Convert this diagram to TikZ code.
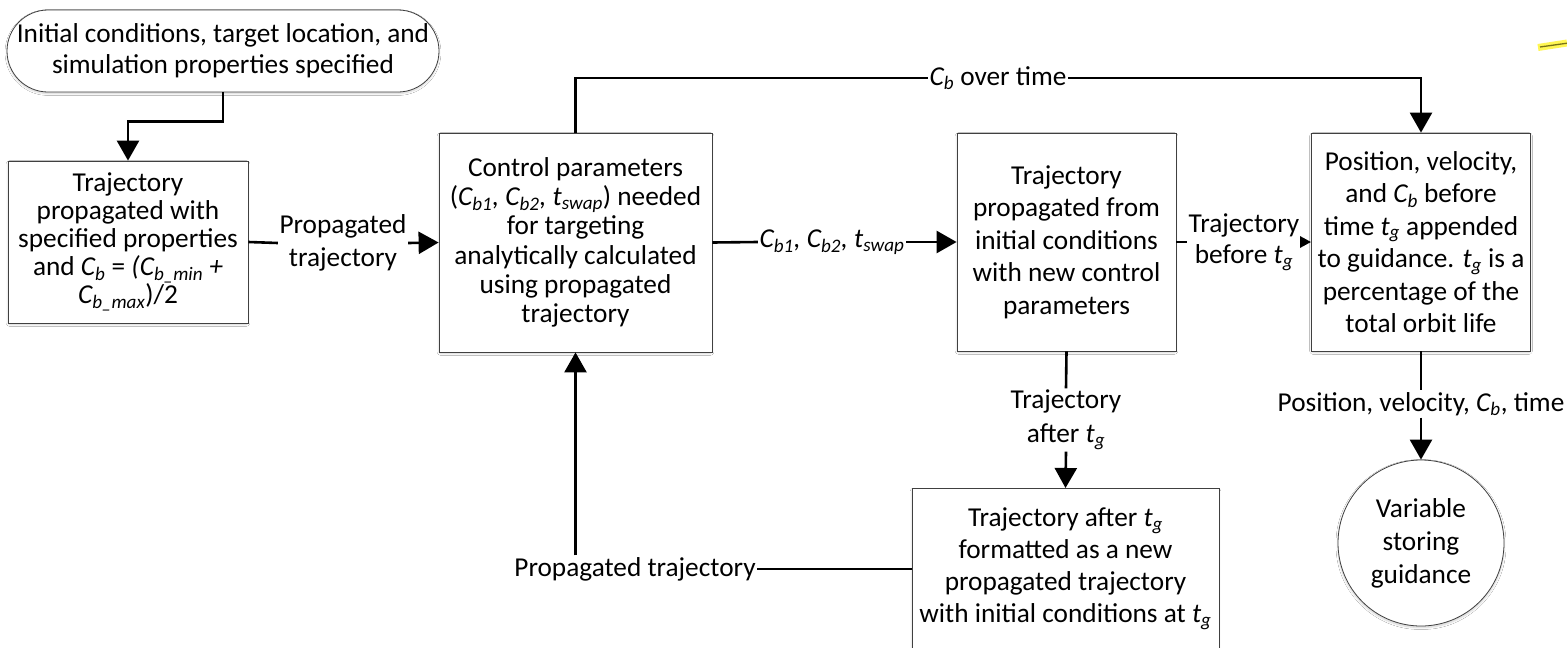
\documentclass[tikz,border=0pt]{standalone}
\usepackage{fontspec}
\setmainfont{Carlito}
\usetikzlibrary{arrows.meta,shadows.blur,calc}
\newcommand{\Cs}[1]{\textit{C\textsubscript{#1}}}
\newcommand{\ts}[1]{\textit{t\textsubscript{#1}}}
\newcommand{\fs}[1]{\fontsize{27.3}{#1}\selectfont}
\tikzset{
  box/.style={draw=black!75, line width=0.8pt, fill=white, align=center,
    blur shadow={shadow blur steps=6, shadow xshift=0pt, shadow yshift=-1.5pt, shadow opacity=18, shadow blur extra rounding=2pt},
    inner sep=0pt},
  lbl/.style={align=center, inner sep=1.5pt, font=\fs{32.5}},
  conn/.style={line width=2.6pt, black},
  arr/.style={conn, -{Triangle[length=20pt,width=22pt]}},
  sarr/.style={conn, -{Triangle[length=11pt,width=11pt]}},
}
\begin{document}
\begin{tikzpicture}[x=1pt,y=-1pt,font=\fs{32.5}]
\useasboundingbox[fill=white] (0,0) rectangle (1567,648);

\node[box, rounded corners=41pt, minimum width=432pt, minimum height=82pt, font=\fs{31}] (term) at (223,51)
  {Initial conditions, target location, and\\simulation properties specified};
\node[box, minimum width=240pt, minimum height=162pt, font=\fs{28}] (box1) at (128,242)
  {Trajectory\\propagated with\\specified properties\\and \Cs{b} = \textit{(C\textsubscript{b\_min} +}\\\textit{C\textsubscript{b\_max}})/2};
\node[box, minimum width=273pt, minimum height=219pt, font=\fs{29.3}] (box2) at (575.5,242.5)
  {Control parameters\\(\Cs{b1}\textit{,} \Cs{b2}\textit{,} \ts{swap}) needed\\for targeting\\analytically calculated\\using propagated\\trajectory};
\node[box, minimum width=219pt, minimum height=218pt] (box3) at (1066.5,242)
  {Trajectory\\propagated from\\initial conditions\\with new control\\parameters};
\node[box, minimum width=219pt, minimum height=218pt] (box4) at (1421,242)
  {Position, velocity,\\and \Cs{b} before\\time \ts{g} appended\\to guidance. \ts{g} is a\\percentage of the\\total orbit life};
\node[box, minimum width=307pt, minimum height=172pt, anchor=north] (box5) at (1065.5,488)
  {};
\node[align=center, inner sep=0pt, font=\fs{32}] (box5t) at (1065.5,569)
  {Trajectory after \ts{g}\\formatted as a new\\propagated trajectory\\with initial conditions at \ts{g}};
\node[box, circle, minimum size=166pt, font=\fs{33}] (circ) at (1421,543)
  {Variable\\storing\\guidance};

% edge labels
\node[lbl] (l1) at (343,243) {Propagated\\trajectory};
\node[lbl] (l2) at (998,78) {\Cs{b} over time};
\node[lbl] (l3) at (832,242) {\Cs{b1}\textit{,} \Cs{b2}\textit{,} \ts{swap}};
\node[lbl, font=\fs{31}] (l4) at (1244,242) {Trajectory\\before \ts{g}};
\node[lbl, font=\fs{34}] (l5) at (1066,420) {Trajectory\\after \ts{g}};
\node[lbl] (l6) at (1421,404) {Position, velocity, \Cs{b}, time};
\node[lbl] (l7) at (635,569) {Propagated trajectory};

% connectors
\draw[arr] (term.south) -- ++(0,29) -| (box1.north);
\draw[conn] (box1.east) -- (l1.west);
\draw[arr] (l1.east) -- (box2.west);
\draw[conn] (box2.north) |- (l2.west);
\draw[arr] (l2.east) -| (box4.north);
\draw[conn] (box2.east) -- (l3.west);
\draw[arr] (l3.east) -- (box3.west);
\draw[conn] (box3.east) -- (l4.west);
\draw[sarr] (l4.east) -- (box4.west);
\draw[conn] (box3.south) -- (l5.north);
\draw[arr] (l5.south) -- (box5.north);
\draw[conn] (box4.south) -- (l6.north);
\draw[arr] (l6.south) -- (circ.north);
\draw[conn] (box5.west |- l7.east) -- (l7.east);
\draw[arr] (l7.north -| box2.south) -- (box2.south);

% stray highlighter mark
\draw[yellow!90!white, line width=7pt, opacity=0.75] (1538,47.5) -- (1567,43);
\draw[olive!80!black, line width=1.3pt] (1540,47) -- (1567,43.2);
\end{tikzpicture}
\end{document}
